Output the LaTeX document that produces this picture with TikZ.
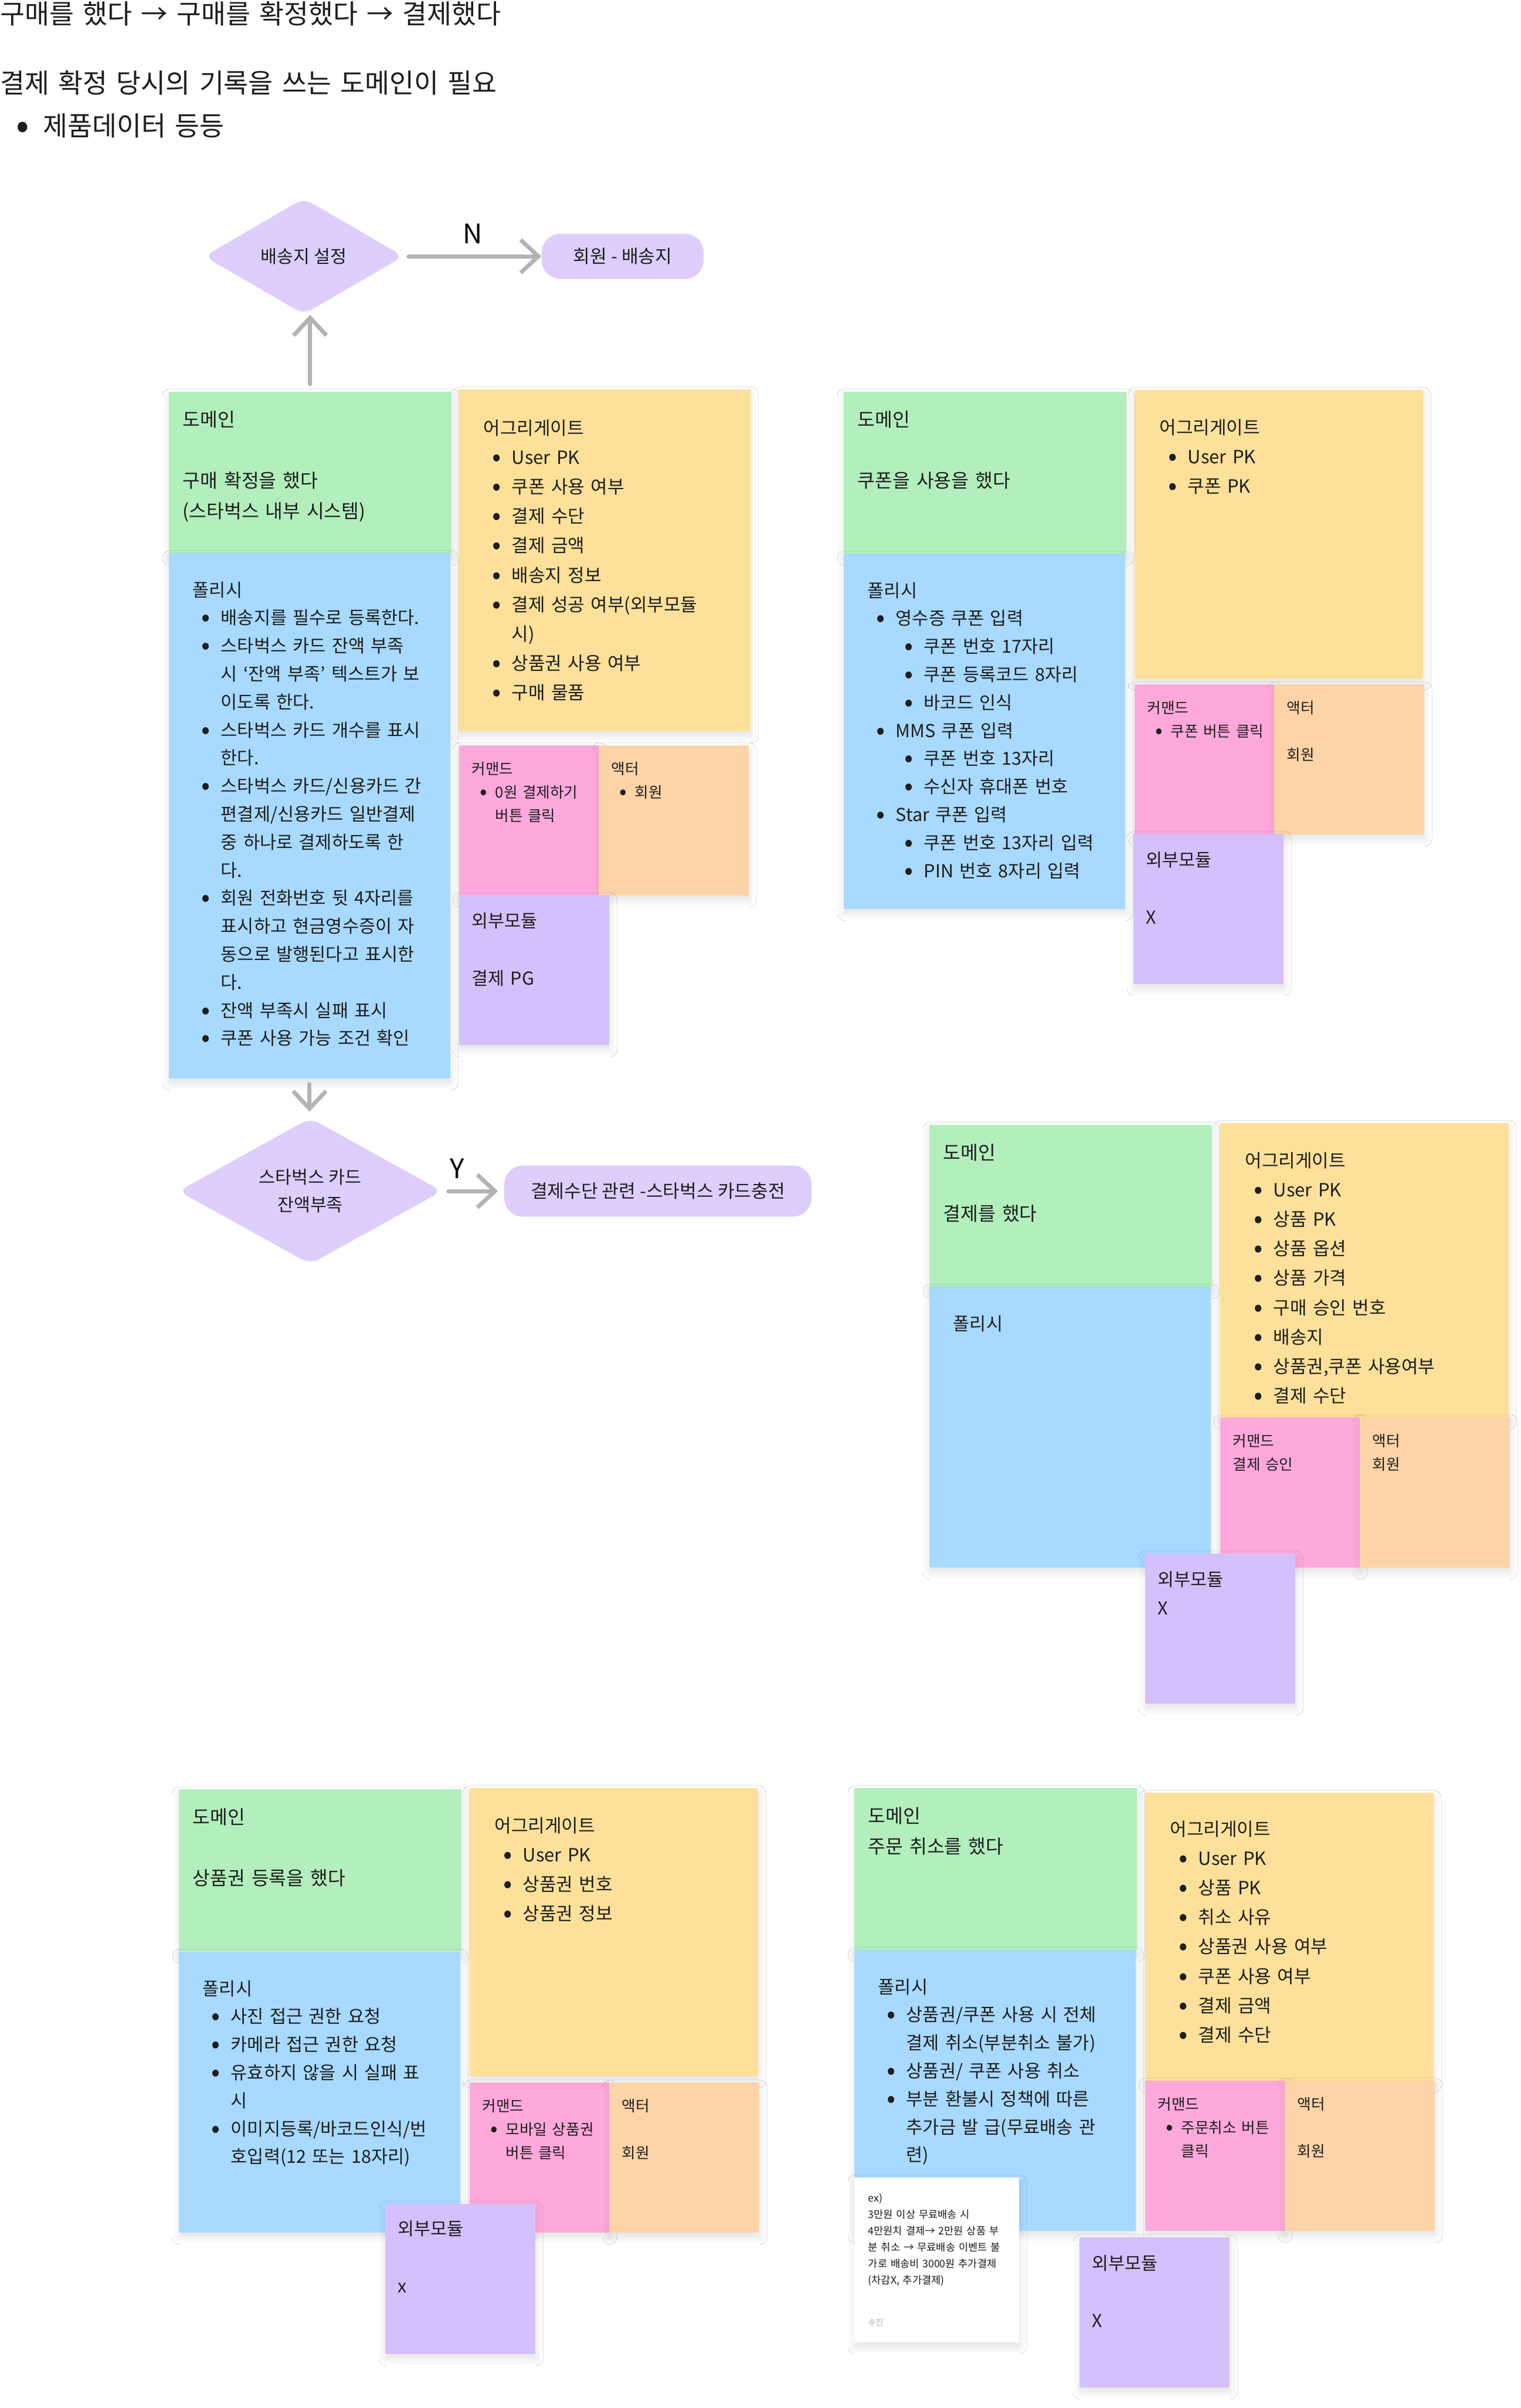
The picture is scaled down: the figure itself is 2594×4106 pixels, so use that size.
\documentclass[tikz,border=0pt]{standalone}
\usepackage{fontspec}
\setmainfont{Noto Sans CJK KR}
\usepackage{graphicx}
\usepackage{enumitem}
\newcommand{\dotlabel}{\raisebox{-0.1em}{\scalebox{1.45}{\textbullet}}}
\setlist[itemize]{label=\dotlabel, leftmargin=12pt, labelsep=4.5pt, topsep=0pt, partopsep=0pt, parsep=0pt, itemsep=0pt}
\usetikzlibrary{arrows.meta, positioning, shapes.geometric, shadows.blur}

\definecolor{domainc}{HTML}{B2EFBC}
\definecolor{policyc}{HTML}{A8D9FE}
\definecolor{aggc}{HTML}{FDE09A}
\definecolor{cmdc}{HTML}{FFA8DB}
\definecolor{actorc}{HTML}{FDD3A8}
\definecolor{extc}{HTML}{D4C0FC}
\definecolor{decic}{HTML}{DDCEFD}
\definecolor{inkc}{HTML}{1E1E1E}
\definecolor{flowc}{HTML}{B3B3B3}

\begin{document}
\begin{tikzpicture}[
  x=0.25pt, y=-0.25pt,
  wd/.style = {minimum width=#1*0.25pt},
  ht/.style = {minimum height=#1*0.25pt},
  sticky/.style = {rectangle, inner sep=0, anchor=north west,
    blur shadow={shadow xshift=0.3pt, shadow yshift=-2pt, shadow blur radius=3pt,
      shadow opacity=11, shadow blur steps=6}},
  dombox/.style = {sticky, fill=domainc, wd=482, ht=276},
  polbox/.style = {sticky, fill=policyc, wd=480, ht=#1},
  aggbox/.style = {sticky, fill=aggc, wd=492, ht=#1},
  cmdbox/.style = {sticky, fill=cmdc, wd=238, ht=256},
  actbox/.style = {sticky, fill=actorc, wd=256, ht=256},
  extbox/.style = {sticky, fill=extc, wd=256, ht=256},
  notebox/.style = {sticky, fill=white, wd=281, ht=281},
  txt/.style = {anchor=base west, inner sep=0, align=left, text=inkc},
  domtext/.style = {txt, text width=118pt, font=\fontsize{8.1pt}{13pt}\selectfont},
  poltext/.style = {txt, text width=118pt, font=\fontsize{7.65pt}{11.95pt}\selectfont},
  aggtext/.style = {txt, text width=118pt, font=\fontsize{7.75pt}{12.55pt}\selectfont},
  smalltext/.style = {txt, text width=58pt, font=\fontsize{6.4pt}{10pt}\selectfont},
  exttext/.style = {txt, text width=58pt, font=\fontsize{7.6pt}{12.25pt}\selectfont},
  notetext/.style = {txt, text width=66pt, font=\fontsize{4.4pt}{7pt}\selectfont},
  headtext/.style = {txt, text width=300pt, font=\fontsize{11.4pt}{18.4pt}\selectfont},
  decision/.style = {diamond, fill=decic, inner sep=0, rounded corners=4pt, align=center,
    text=inkc, font=\fontsize{7.6pt}{11.75pt}\selectfont},
  terminal/.style = {rectangle, fill=decic, inner sep=0, rounded corners=8pt, text=inkc,
    font=\fontsize{7.8pt}{10pt}\selectfont},
  flow/.style = {draw=flowc, line width=1.75pt, line cap=round,
    -{Straight Barb[length=7.5pt, width=14pt]}},
  branch/.style = {inner sep=0, font=\fontsize{11.5pt}{12pt}\selectfont}
]

% Page and headline
\fill[white] (0,0) rectangle (2594,4106);
\useasboundingbox (0,0) rectangle (2594,4106);
\node[headtext] (head) at (0,40) {구매를 했다 → 구매를 확정했다 → 결제했다};
\node[headtext] (need) at (0,158) {결제 확정 당시의 기록을 쓰는 도메인이 필요
  \begin{itemize}[leftmargin=18.25pt, labelsep=6pt]
    \item 제품데이터 등등
  \end{itemize}};

% Group 1: purchase confirmed
\node[dombox] (dom1) at (287,667) {};
\node[domtext] (dom1t) at ([shift={(24,60)}]dom1.north west) {도메인\\[13pt]구매 확정을 했다\\(스타벅스 내부 시스템)};
\node[polbox=896] (pol1) at (287,942) {};
\node[poltext] (pol1t) at ([shift={(41,75)}]pol1.north west) {폴리시
  \begin{itemize}
    \item 배송지를 필수로 등록한다.
    \item 스타벅스 카드 잔액 부족\\시 ‘잔액 부족’ 텍스트가 보\\이도록 한다.
    \item 스타벅스 카드 개수를 표시\\한다.
    \item 스타벅스 카드/신용카드 간\\편결제/신용카드 일반결제\\중 하나로 결제하도록 한\\다.
    \item 회원 전화번호 뒷 4자리를\\표시하고 현금영수증이 자\\동으로 발행된다고 표시한\\다.
    \item 잔액 부족시 실패 표시
    \item 쿠폰 사용 가능 조건 확인
  \end{itemize}};
\node[aggbox=583, wd=498] (agg1) at (781,663) {};
\node[aggtext] (agg1t) at ([shift={(43,78)}]agg1.north west) {어그리게이트
  \begin{itemize}
    \item User PK
    \item 쿠폰 사용 여부
    \item 결제 수단
    \item 결제 금액
    \item 배송지 정보
    \item 결제 성공 여부(외부모듈\\시)
    \item 상품권 사용 여부
    \item 구매 물품
  \end{itemize}};
\node[cmdbox] (cmd1) at (782,1270) {};
\node[smalltext] (cmd1t) at ([shift={(22,50)}]cmd1.north west) {커맨드
  \begin{itemize}[leftmargin=10pt, labelsep=3.5pt]
    \item 0원 결제하기\\버튼 클릭
  \end{itemize}};
\node[actbox] (act1) at (1020,1270) {};
\node[smalltext] (act1t) at ([shift={(22,50)}]act1.north west) {액터
  \begin{itemize}[leftmargin=10pt, labelsep=3.5pt]
    \item 회원
  \end{itemize}};
\node[extbox] (ext1) at (782,1525) {};
\node[exttext] (ext1t) at ([shift={(22,56)}]ext1.north west) {외부모듈\\[12.25pt]결제 PG};

% Decisions
\node[decision, wd=340, ht=198] (dec1) at (518,437) {배송지 설정};
\node[terminal, wd=276, ht=77] (addr) at (1062,437) {회원 - 배송지};
\node[decision, wd=450, ht=235] (dec2) at (529,2031) {스타벅스 카드\\잔액부족};
\node[terminal, wd=524, ht=87] (pay) at (1122,2031) {결제수단 관련 -스타벅스 카드충전};

\draw[flow, shorten <=3pt] (dom1.north) -- (dom1.north |- dec1.south);
\draw[flow, shorten <=2pt] (dec1.east) -- node[branch, above=4.5pt] {N} (addr.west);
\draw[flow, shorten <=2.25pt, shorten >=2.5pt] (pol1.south) -- (pol1.south |- dec2.north);
\draw[flow, shorten <=2.5pt, shorten >=2.5pt] (dec2.east) -- node[branch, pos=0.24, above=4.5pt] {Y} (pay.west);

% Group 2: coupon used
\node[dombox] (dom2) at (1438,667) {};
\node[domtext] (dom2t) at ([shift={(24,60)}]dom2.north west) {도메인\\[13pt]쿠폰을 사용을 했다};
\node[polbox=606] (pol2) at (1438,943) {};
\node[poltext] (pol2t) at ([shift={(41,75)}]pol2.north west) {폴리시
  \begin{itemize}
    \item 영수증 쿠폰 입력
    \begin{itemize}
      \item 쿠폰 번호 17자리
      \item 쿠폰 등록코드 8자리
      \item 바코드 인식
    \end{itemize}
    \item MMS 쿠폰 입력
    \begin{itemize}
      \item 쿠폰 번호 13자리
      \item 수신자 휴대폰 번호
    \end{itemize}
    \item Star 쿠폰 입력
    \begin{itemize}
      \item 쿠폰 번호 13자리 입력
      \item PIN 번호 8자리 입력
    \end{itemize}
  \end{itemize}};
\node[aggbox=492] (agg2) at (1934,664) {};
\node[aggtext] (agg2t) at ([shift={(43,76)}]agg2.north west) {어그리게이트
  \begin{itemize}
    \item User PK
    \item 쿠폰 PK
  \end{itemize}};
\node[cmdbox] (cmd2) at (1934,1166) {};
\node[smalltext] (cmd2t) at ([shift={(22,50)}]cmd2.north west) {커맨드
  \begin{itemize}[leftmargin=10pt, labelsep=3.5pt]
    \item 쿠폰 버튼 클릭
  \end{itemize}};
\node[actbox] (act2) at (2172,1166) {};
\node[smalltext] (act2t) at ([shift={(22,50)}]act2.north west) {액터\\[10pt]회원};
\node[extbox] (ext2) at (1932,1421) {};
\node[exttext] (ext2t) at ([shift={(22,56)}]ext2.north west) {외부모듈\\[12.25pt]X};

% Group 3: paid
\node[dombox] (dom3) at (1584,1917) {};
\node[domtext] (dom3t) at ([shift={(24,60)}]dom3.north west) {도메인\\[13pt]결제를 했다};
\node[polbox=479] (pol3) at (1584,2193) {};
\node[poltext] (pol3t) at ([shift={(41,75)}]pol3.north west) {폴리시};
\node[aggbox=502] (agg3) at (2080,1914) {};
\node[aggtext] (agg3t) at ([shift={(43,76)}]agg3.north west) {어그리게이트
  \begin{itemize}
    \item User PK
    \item 상품 PK
    \item 상품 옵션
    \item 상품 가격
    \item 구매 승인 번호
    \item 배송지
    \item 상품권,쿠폰 사용여부
    \item 결제 수단
  \end{itemize}};
\node[cmdbox] (cmd3) at (2080,2416) {};
\node[smalltext] (cmd3t) at ([shift={(22,50)}]cmd3.north west) {커맨드\\결제 승인};
\node[actbox] (act3) at (2318,2416) {};
\node[smalltext] (act3t) at ([shift={(22,50)}]act3.north west) {액터\\회원};
\node[extbox] (ext3) at (1952,2648) {};
\node[exttext] (ext3t) at ([shift={(22,56)}]ext3.north west) {외부모듈\\X};

% Group 4: gift card registered
\node[dombox] (dom4) at (304,3050) {};
\node[domtext] (dom4t) at ([shift={(24,60)}]dom4.north west) {도메인\\[13pt]상품권 등록을 했다};
\node[polbox=479] (pol4) at (304,3327) {};
\node[poltext] (pol4t) at ([shift={(41,75)}]pol4.north west) {폴리시
  \begin{itemize}
    \item 사진 접근 권한 요청
    \item 카메라 접근 권한 요청
    \item 유효하지 않을 시 실패 표\\시
    \item 이미지등록/바코드인식/번\\호입력(12 또는 18자리)
  \end{itemize}};
\node[aggbox=491] (agg4) at (800,3048) {};
\node[aggtext] (agg4t) at ([shift={(43,76)}]agg4.north west) {어그리게이트
  \begin{itemize}
    \item User PK
    \item 상품권 번호
    \item 상품권 정보
  \end{itemize}};
\node[cmdbox] (cmd4) at (800,3550) {};
\node[smalltext] (cmd4t) at ([shift={(22,50)}]cmd4.north west) {커맨드
  \begin{itemize}[leftmargin=10pt, labelsep=3.5pt]
    \item 모바일 상품권\\버튼 클릭
  \end{itemize}};
\node[actbox] (act4) at (1038,3550) {};
\node[smalltext] (act4t) at ([shift={(22,50)}]act4.north west) {액터\\[10pt]회원};
\node[extbox] (ext4) at (656,3757) {};
\node[exttext] (ext4t) at ([shift={(22,54)}]ext4.north west) {외부모듈\\[12.25pt]x};

% Group 5: order cancelled
\node[dombox] (dom5) at (1456,3048) {};
\node[domtext] (dom5t) at ([shift={(24,60)}]dom5.north west) {도메인\\주문 취소를 했다};
\node[polbox=479] (pol5) at (1456,3324) {};
\node[poltext] (pol5t) at ([shift={(41,75)}]pol5.north west) {폴리시
  \begin{itemize}
    \item 상품권/쿠폰 사용 시 전체\\결제 취소(부분취소 불가)
    \item 상품권/ 쿠폰 사용 취소
    \item 부분 환불시 정책에 따른\\추가금 발 급(무료배송 관\\련)
  \end{itemize}};
\node[aggbox=491] (agg5) at (1952,3056) {};
\node[aggtext] (agg5t) at ([shift={(43,74)}]agg5.north west) {어그리게이트
  \begin{itemize}
    \item User PK
    \item 상품 PK
    \item 취소 사유
    \item 상품권 사용 여부
    \item 쿠폰 사용 여부
    \item 결제 금액
    \item 결제 수단
  \end{itemize}};
\node[cmdbox] (cmd5) at (1952,3547) {};
\node[smalltext] (cmd5t) at ([shift={(22,50)}]cmd5.north west) {커맨드
  \begin{itemize}[leftmargin=10pt, labelsep=3.5pt]
    \item 주문취소 버튼\\클릭
  \end{itemize}};
\node[actbox] (act5) at (2190,3547) {};
\node[smalltext] (act5t) at ([shift={(22,50)}]act5.north west) {액터\\[10pt]회원};
\node[notebox] (note) at (1456,3712) {};
\node[notetext] (notet) at ([shift={(24,42)}]note.north west) {ex)\\3만원 이상 무료배송 시\\4만원치 결제→ 2만원 상품 부\\분 취소 → 무료배송 이벤트 불\\가로 배송비 3000원 추가결제\\(차감X, 추가결제)};
\node[txt, text=gray!70, font=\fontsize{3.5pt}{4pt}\selectfont] (notesig) at ([shift={(24,253)}]note.north west) {수진};
\node[extbox] (ext5) at (1840,3814) {};
\node[exttext] (ext5t) at ([shift={(22,56)}]ext5.north west) {외부모듈\\[12.25pt]X};

\end{tikzpicture}
\end{document}
